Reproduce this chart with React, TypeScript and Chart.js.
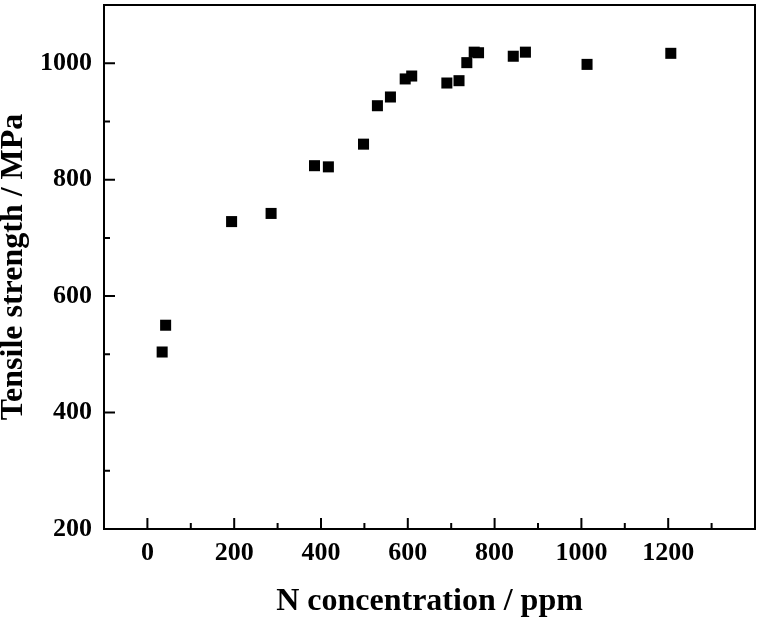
import React, { useEffect, useRef } from "react";
import { Chart, registerables } from "chart.js";

Chart.register(...registerables);

const nConcentration = [34, 42, 194, 285, 385, 417, 498, 530, 560, 594, 609, 690, 718, 736, 753, 763, 843, 871, 1013, 1206];
const tensileStrength = [504, 550, 728, 742, 824, 822, 861, 927, 942, 973, 978, 966, 970, 1001, 1019, 1018, 1012, 1019, 998, 1017];

const xLabelValues = [0, 200, 400, 600, 800, 1000, 1200];
const yLabelValues = [200, 400, 600, 800, 1000];

const xTitle = "N concentration / ppm";
const yTitle = "Tensile strength / MPa";

const FONT = "'Liberation Serif', 'Times New Roman', serif";

const framePlugin = {
  id: "frame",
  afterDraw(chart: any) {
    const { ctx, chartArea: a, scales } = chart;
    const xs = scales.x;
    const ys = scales.y;
    ctx.save();
    ctx.strokeStyle = "#000";
    ctx.lineWidth = 2;
    ctx.strokeRect(a.left, a.top, a.right - a.left, a.bottom - a.top);
    ctx.beginPath();
    xs.ticks.forEach((t: any) => {
      const v = t.value;
      if (v <= xs.min || v >= xs.max) return;
      const len = v % 200 === 0 ? 11 : 6;
      const px = xs.getPixelForValue(v);
      ctx.moveTo(px, a.bottom);
      ctx.lineTo(px, a.bottom - len);
    });
    ys.ticks.forEach((t: any) => {
      const v = t.value;
      if (v <= ys.min || v >= ys.max) return;
      const len = v % 200 === 0 ? 11 : 6;
      const py = ys.getPixelForValue(v);
      ctx.moveTo(a.left, py);
      ctx.lineTo(a.left + len, py);
    });
    ctx.stroke();
    ctx.restore();
  },
};

export default function App() {
  const ref = useRef<HTMLCanvasElement>(null);

  useEffect(() => {
    document.body.style.margin = "0";
    const canvas = ref.current;
    if (!canvas) return;
    const chart = new Chart(canvas, {
      type: "scatter",
      data: {
        datasets: [
          {
            label: "Tensile strength",
            data: nConcentration.map((x, i) => ({ x, y: tensileStrength[i] })),
            pointStyle: "rect",
            pointRadius: 7.8,
            pointHoverRadius: 7.8,
            backgroundColor: "#000",
            borderColor: "#000",
            borderWidth: 0,
          },
        ],
      },
      options: {
        responsive: false,
        animation: false,
        devicePixelRatio: 1,
        layout: { autoPadding: false, padding: { top: 5, right: 5, left: 0, bottom: 0 } },
        plugins: {
          legend: { display: false },
          tooltip: { enabled: false },
        },
        scales: {
          x: {
            type: "linear",
            min: -100,
            max: 1400,
            grid: { display: false, drawTicks: false },
            border: { display: false },
            ticks: {
              stepSize: 100,
              autoSkip: false,
              maxRotation: 0,
              padding: 9,
              color: "#000",
              font: { family: FONT, size: 26, weight: "bold" },
              callback: (v: any) => (xLabelValues.includes(Number(v)) ? String(v) : ""),
            },
            title: {
              display: true,
              text: xTitle,
              color: "#000",
              font: { family: FONT, size: 32, weight: "bold", lineHeight: 1 },
              padding: { top: 0, bottom: 5 },
            },
            afterFit: (scale: any) => {
              scale.height = 94;
              scale.paddingLeft = 0;
              scale.paddingRight = 0;
            },
          },
          y: {
            type: "linear",
            min: 200,
            max: 1100,
            grid: { display: false, drawTicks: false },
            border: { display: false },
            ticks: {
              stepSize: 100,
              autoSkip: false,
              padding: 12,
              color: "#000",
              font: { family: FONT, size: 26, weight: "bold" },
              callback: (v: any) => (yLabelValues.includes(Number(v)) ? String(v) : ""),
            },
            title: {
              display: true,
              text: yTitle,
              color: "#000",
              font: { family: FONT, size: 32, weight: "bold", lineHeight: 0.84 },
              padding: { top: 0, bottom: 0 },
            },
            afterFit: (scale: any) => {
              scale.width = 104;
              scale.paddingTop = 0;
              scale.paddingBottom = 0;
            },
          },
        },
      },
      plugins: [framePlugin],
    });
    return () => chart.destroy();
  }, []);

  return (
    <div style={{ width: 760, height: 623, background: "#fff" }}>
      <canvas ref={ref} width={760} height={623} />
    </div>
  );
}
